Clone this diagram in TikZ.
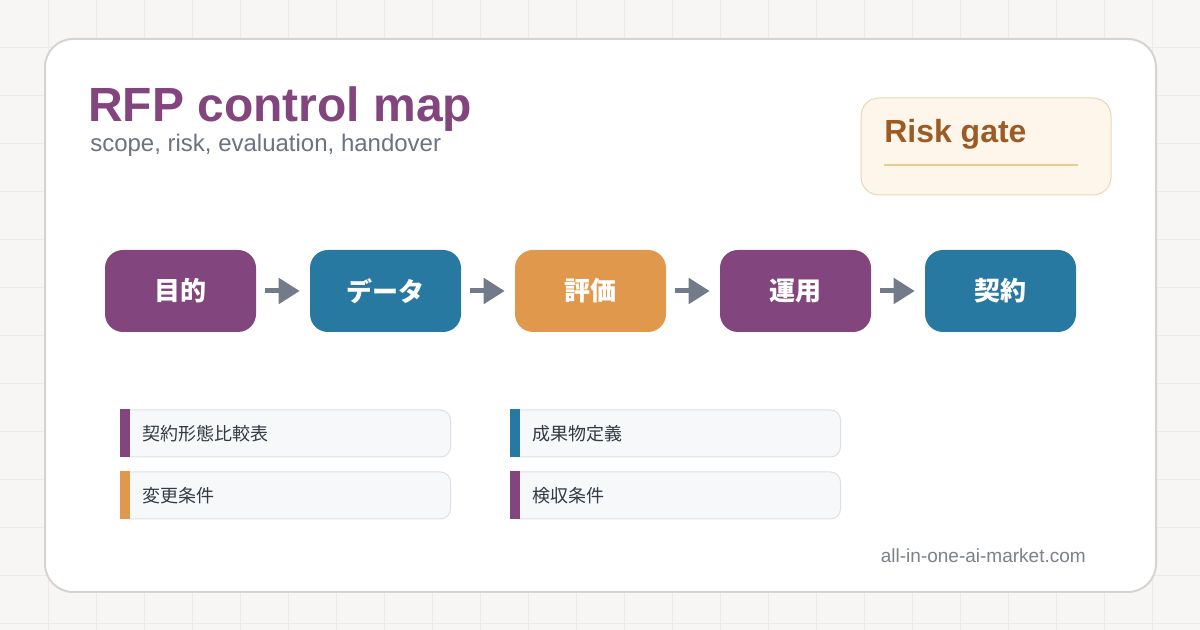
\documentclass[tikz,border=0pt]{standalone}
\usepackage{fontspec}
\setmainfont{Liberation Sans}
\newfontfamily\jp{Noto Sans CJK JP}
\usetikzlibrary{arrows.meta,positioning}
\definecolor{paper}{HTML}{F8F5F5}
\definecolor{gridc}{HTML}{EFE8E9}
\definecolor{cardline}{HTML}{D9D2D3}
\definecolor{plum}{HTML}{82457D}
\definecolor{teal}{HTML}{2879A1}
\definecolor{amber}{HTML}{E0994C}
\definecolor{arrowc}{HTML}{737B8A}
\definecolor{subgray}{HTML}{6B7280}
\definecolor{rust}{HTML}{9C5B25}
\definecolor{gatefill}{HTML}{FEF6EA}
\definecolor{gateline}{HTML}{ECD6B3}
\definecolor{gaterule}{HTML}{E9CB95}
\definecolor{itemfill}{HTML}{F7F8FA}
\definecolor{itemline}{HTML}{DCE0E6}
\definecolor{inkc}{HTML}{333A44}
\definecolor{footc}{HTML}{7B8089}

\begin{document}
\begin{tikzpicture}[x=0.75pt, y=-0.75pt,
    stage/.style={rounded corners=13.5pt, minimum width=113.25pt, minimum height=61.5pt,
        text=white, font=\jp\bfseries\fontsize{19.5}{22}\selectfont},
    flow/.style={-{Triangle[length=15.75pt, width=18.75pt]}, line width=3.75pt, arrowc,
        shorten <=6.75pt, shorten >=7.5pt},
    item/.style={draw=itemline, fill=itemfill, line width=0.75pt, rounded corners=7.5pt,
        anchor=west, minimum width=247.5pt, minimum height=35.25pt, inner xsep=16.5pt,
        text width=214.5pt, align=left, text=inkc, font=\jp\fontsize{13.5}{16}\selectfont}]
    \useasboundingbox (0,0) rectangle (1200,630);

    % Backdrop with light grid
    \fill[paper] (0,0) rectangle (1200,630);
    \foreach \gx in {48,96,...,1152} \draw[gridc, line width=0.75pt] (\gx,0) -- (\gx,630);
    \foreach \gy in {48,96,...,624} \draw[gridc, line width=0.75pt] (0,\gy) -- (1200,\gy);

    % Card
    \draw[cardline, fill=white, line width=1.5pt, rounded corners=21pt] (45,39) rectangle (1156,592);

    % Heading
    \node[anchor=base west, inner sep=0pt, text=plum, font=\bfseries\fontsize{36}{40}\selectfont] (title) at (88,122) {RFP control map};
    \node[anchor=base west, inner sep=0pt, text=subgray, font=\fontsize{18}{20}\selectfont] (subtitle) at (90,152) {scope, risk, evaluation, handover};

    % Risk gate
    \draw[gateline, fill=gatefill, line width=0.75pt, rounded corners=13.5pt] (861,98) rectangle (1111,195);
    \node[anchor=base west, inner sep=0pt, text=rust, font=\bfseries\fontsize{24}{28}\selectfont] (gate) at (884,143) {Risk gate};
    \draw[gaterule, line width=1.5pt] (884,165) -- (1078,165);

    % Flow
    \node[stage, fill=plum] (goal) at (180.5,291) {目的};
    \node[stage, fill=teal] (data) at (385.5,291) {データ};
    \node[stage, fill=amber] (eval) at (590.5,291) {評価};
    \node[stage, fill=plum] (ops) at (795.5,291) {運用};
    \node[stage, fill=teal] (deal) at (1000.5,291) {契約};
    \draw[flow] (goal) -- (data);
    \draw[flow] (data) -- (eval);
    \draw[flow] (eval) -- (ops);
    \draw[flow] (ops) -- (deal);

    % Deliverables
    \node[item] (forms) at (120,433.5) {契約形態比較表};
    \node[item] (change) at (120,495.5) {変更条件};
    \node[item] (outputs) at (510,433.5) {成果物定義};
    \node[item] (accept) at (510,495.5) {検収条件};
    \fill[plum] (forms.north west) rectangle ([xshift=7.5pt]forms.south west);
    \fill[amber] (change.north west) rectangle ([xshift=7.5pt]change.south west);
    \fill[teal] (outputs.north west) rectangle ([xshift=7.5pt]outputs.south west);
    \fill[plum] (accept.north west) rectangle ([xshift=7.5pt]accept.south west);

    % Footer
    \node[anchor=base east, inner sep=0pt, text=footc, font=\fontsize{14.25}{16}\selectfont] (site) at (1086,563) {all-in-one-ai-market.com};
\end{tikzpicture}
\end{document}
